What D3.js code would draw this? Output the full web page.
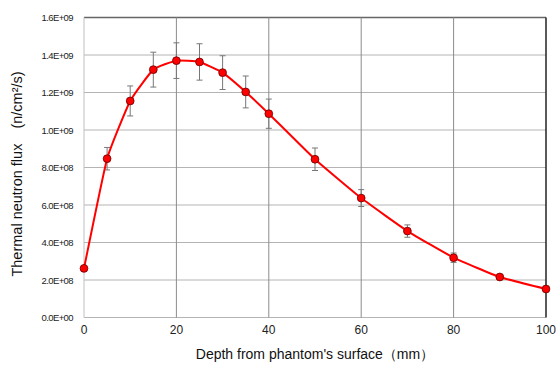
<!DOCTYPE html>
<html>
<head>
<meta charset="utf-8">
<script src="https://cdn.jsdelivr.net/npm/d3@7"></script>
<style>
  body { margin: 0; background: #fff; }
  text { font-family: "Liberation Sans", Arial, sans-serif; }
</style>
</head>
<body>
<script>
// depth (mm), thermal neutron flux and its error bar
var depth = [0, 5, 10, 15, 20, 25, 30, 35, 40, 50, 60, 70, 80, 90, 100];
var flux  = [2.62e8, 8.47e8, 1.155e9, 1.322e9, 1.370e9, 1.363e9, 1.306e9, 1.203e9, 1.087e9,
             8.44e8, 6.37e8, 4.61e8, 3.19e8, 2.16e8, 1.52e8];
var fluxErr = [0, 6.0e7, 8.0e7, 9.3e7, 9.5e7, 9.7e7, 9.0e7, 8.5e7, 7.8e7,
               6.0e7, 4.5e7, 3.3e7, 2.5e7, 1.0e7, 0];
var xTicks = [0, 20, 40, 60, 80, 100];
var yTicks = [0, 2e8, 4e8, 6e8, 8e8, 1e9, 1.2e9, 1.4e9, 1.6e9];
var yTickLabels = ["0.0E+00", "2.0E+08", "4.0E+08", "6.0E+08", "8.0E+08",
                   "1.0E+09", "1.2E+09", "1.4E+09", "1.6E+09"];

var W = 558, H = 365;
var margin = {left: 84, right: 12, top: 17.5, bottom: 47.5};

var svg = d3.select("body").append("svg")
    .attr("width", W)
    .attr("height", H);

var x = d3.scaleLinear().domain([0, 100]).range([margin.left, W - margin.right]);
var y = d3.scaleLinear().domain([0, 1.6e9]).range([H - margin.bottom, margin.top]);

// horizontal grid
svg.append("g").selectAll("line")
    .data(yTicks)
    .enter().append("line")
    .attr("x1", x(0)).attr("x2", x(100))
    .attr("y1", function(d) { return y(d); })
    .attr("y2", function(d) { return y(d); })
    .attr("stroke", function(d) { return d === 1.6e9 ? "#666" : "#b4b4b4"; })
    .attr("stroke-width", function(d) { return d === 1.6e9 ? 1.5 : 1; });

// vertical grid
svg.append("g").selectAll("line")
    .data(xTicks)
    .enter().append("line")
    .attr("y1", y(0)).attr("y2", y(1.6e9))
    .attr("x1", function(d) { return x(d); })
    .attr("x2", function(d) { return x(d); })
    .attr("stroke", function(d) { return d === 0 ? "#c0c0c0" : (d === 100 ? "#222" : "#8c8c8c"); })
    .attr("stroke-width", function(d) { return d === 100 ? 1.5 : 1; });

// y tick labels
svg.append("g").selectAll("text")
    .data(yTicks)
    .enter().append("text")
    .attr("x", 73)
    .attr("y", function(d) { return y(d) + 3.5; })
    .attr("text-anchor", "end")
    .attr("font-size", 9.5)
    .attr("letter-spacing", -0.6)
    .attr("fill", "#222")
    .text(function(d, i) { return yTickLabels[i]; });

// x tick labels
svg.append("g").selectAll("text")
    .data(xTicks)
    .enter().append("text")
    .attr("x", function(d) { return x(d); })
    .attr("y", 334)
    .attr("text-anchor", "middle")
    .attr("font-size", 12)
    .attr("fill", "#222")
    .text(function(d) { return d; });

// axis titles
svg.append("text")
    .attr("x", 315)
    .attr("y", 359)
    .attr("text-anchor", "middle")
    .attr("font-size", 14)
    .attr("fill", "#111")
    .text("Depth from phantom's surface（mm）");

svg.append("text")
    .attr("transform", "translate(22,174) rotate(-90)")
    .attr("text-anchor", "middle")
    .attr("font-size", 14.5)
    .attr("fill", "#111")
    .text("Thermal neutron flux　(n/cm²/s)");

// error bars
var eb = svg.append("g").attr("stroke", "#777").attr("stroke-width", 1);
depth.forEach(function(d, i) {
    if (!fluxErr[i]) return;
    var cx = x(d), t = y(flux[i] + fluxErr[i]), b = y(flux[i] - fluxErr[i]);
    eb.append("line").attr("x1", cx).attr("x2", cx).attr("y1", t).attr("y2", b);
    eb.append("line").attr("x1", cx - 3).attr("x2", cx + 3).attr("y1", t).attr("y2", t);
    eb.append("line").attr("x1", cx - 3).attr("x2", cx + 3).attr("y1", b).attr("y2", b);
});

// curve
var line = d3.line()
    .x(function(d, i) { return x(depth[i]); })
    .y(function(d) { return y(d); })
    .curve(d3.curveCardinal.tension(0.6));

svg.append("path")
    .datum(flux)
    .attr("fill", "none")
    .attr("stroke", "#f00")
    .attr("stroke-width", 2)
    .attr("d", line);

svg.append("g").selectAll("circle")
    .data(flux)
    .enter().append("circle")
    .attr("cx", function(d, i) { return x(depth[i]); })
    .attr("cy", function(d) { return y(d); })
    .attr("r", 3.9)
    .attr("fill", "#f00")
    .attr("stroke", "#600")
    .attr("stroke-width", 0.8);
</script>
</body>
</html>
